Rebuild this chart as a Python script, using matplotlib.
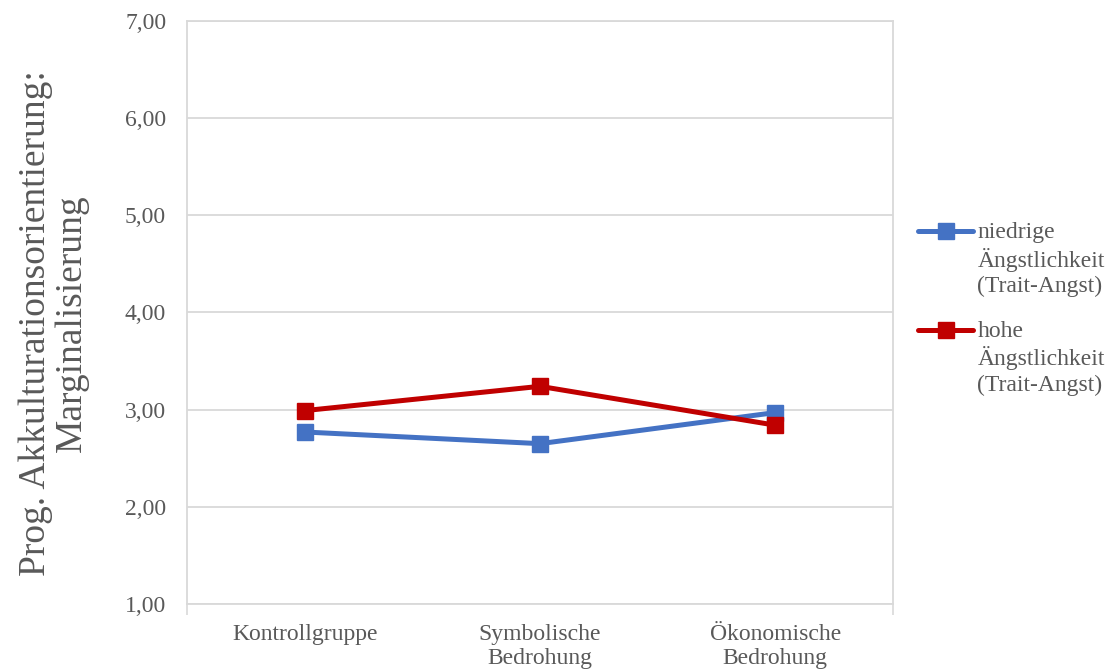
import numpy as np
import matplotlib
matplotlib.use("Agg")
import matplotlib.pyplot as plt
from matplotlib.legend_handler import HandlerLine2D

plt.rcParams['font.family'] = ['Liberation Serif', 'DejaVu Serif']

# group means per condition
conditions = ["Kontrollgruppe", "Symbolische\nBedrohung", "Ökonomische\nBedrohung"]
low_anxiety = [2.77, 2.65, 2.97]
high_anxiety = [2.99, 3.24, 2.84]
series_labels = ["niedrige\nÄngstlichkeit\n(Trait-Angst)", "hohe\nÄngstlichkeit\n(Trait-Angst)"]
y_ticks = [1, 2, 3, 4, 5, 6, 7]

text_grey = "#595959"
grid_grey = "#d9d9d9"


class TopLineHandler(HandlerLine2D):
    """Legend line that sits on the first line of a multi-line label."""
    def __init__(self, shift, **kw):
        super().__init__(**kw)
        self.shift = shift

    def create_artists(self, *args, **kwargs):
        artists = super().create_artists(*args, **kwargs)
        for a in artists:
            a.set_ydata(np.asarray(a.get_ydata()) + self.shift)
        return artists


fig = plt.figure(figsize=(11.11, 6.71), dpi=100)
ax = fig.add_axes([0.1683, 0.0999, 0.6355, 0.8688])

x = np.arange(len(conditions))
l1, = ax.plot(x, low_anxiety, color="#4472C4", lw=3.6, marker="s", ms=11,
              label=series_labels[0], solid_joinstyle="round", solid_capstyle="round")
l2, = ax.plot(x, high_anxiety, color="#C00000", lw=3.6, marker="s", ms=11,
              label=series_labels[1], solid_joinstyle="round", solid_capstyle="round")

ax.set_xlim(-0.5, 2.5)
ax.set_ylim(1, 7)
ax.set_yticks(y_ticks)
ax.set_yticklabels([f"{v:.2f}".replace(".", ",") for v in y_ticks])
ax.set_xticks(x)
ax.set_xticklabels(conditions)
ax.tick_params(axis="y", length=0, pad=15, labelsize=17, labelcolor=text_grey)
ax.tick_params(axis="x", length=0, pad=14.5, labelsize=17, labelcolor=text_grey)

# category tick marks below the axis line
ax.set_xticks([-0.5, 0, 1, 2, 2.5], minor=True)
ax.tick_params(axis="x", which="minor", length=8, width=1.2, color=grid_grey)

ax.grid(axis="y", color=grid_grey, lw=1.3)
ax.set_axisbelow(True)
for side in ["left", "right", "top", "bottom"]:
    ax.spines[side].set_color(grid_grey)
    ax.spines[side].set_linewidth(1.3)

ax.set_ylabel("Prog. Akkulturationsorientierung:\nMarginalisierung", fontsize=27,
              color=text_grey, linespacing=1.05)
ax.yaxis.set_label_coords(-0.139, 0.481)

hmap = {l1: TopLineHandler(shift=20.5), l2: TopLineHandler(shift=20.5)}
leg = ax.legend(loc="upper left", bbox_to_anchor=(0.8182, 0.683),
                bbox_transform=fig.transFigure, frameon=False, fontsize=17,
                labelcolor=text_grey, handlelength=2.3, handletextpad=0.2,
                labelspacing=1.0, borderaxespad=0, handler_map=hmap)
for t in leg.get_texts():
    t.set_linespacing(1.25)

fig.savefig("out.png", dpi=100)
